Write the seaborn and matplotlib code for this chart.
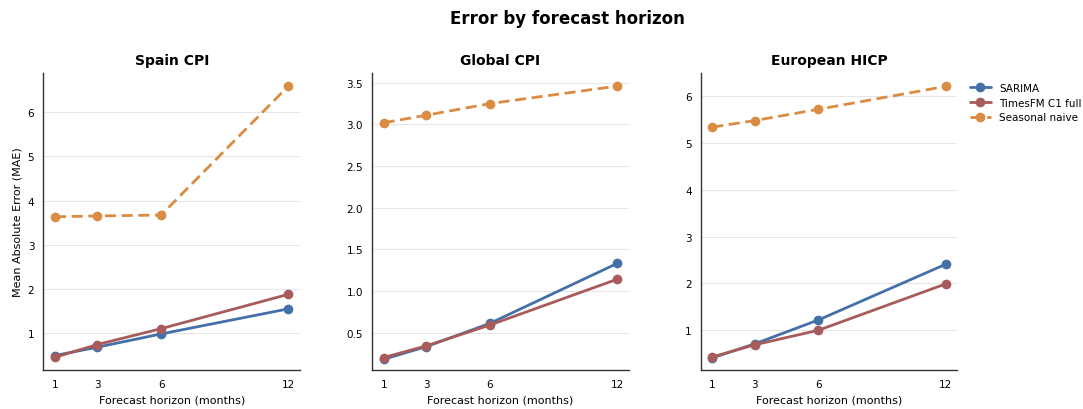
import numpy as np
import pandas as pd
import matplotlib
matplotlib.use("Agg")
import matplotlib.pyplot as plt
import seaborn as sns

horizons = [1, 3, 6, 12]
datasets = ["Spain CPI", "Global CPI", "European HICP"]
models = ["SARIMA", "TimesFM C1 full", "Seasonal naive"]

spain_sarima = [0.48, 0.67, 0.97, 1.54]
spain_timesfm = [0.44, 0.73, 1.09, 1.87]
spain_naive = [3.63, 3.65, 3.67, 6.60]

global_sarima = [0.18, 0.33, 0.61, 1.33]
global_timesfm = [0.20, 0.34, 0.59, 1.14]
global_naive = [3.02, 3.11, 3.25, 3.46]

europe_sarima = [0.41, 0.71, 1.22, 2.41]
europe_timesfm = [0.43, 0.69, 1.00, 1.99]
europe_naive = [5.34, 5.48, 5.72, 6.21]

values = {
    "Spain CPI": [spain_sarima, spain_timesfm, spain_naive],
    "Global CPI": [global_sarima, global_timesfm, global_naive],
    "European HICP": [europe_sarima, europe_timesfm, europe_naive],
}

rows = []
for ds in datasets:
    for m, vals in zip(models, values[ds]):
        for h, v in zip(horizons, vals):
            rows.append({"dataset": ds, "model": m, "horizon": h, "mae": v})
df = pd.DataFrame(rows)

sns.set_theme(style="white")
plt.rcParams["font.family"] = ["DejaVu Sans"]
for k in ["text.color", "axes.labelcolor", "xtick.color", "ytick.color", "axes.titlecolor"]:
    plt.rcParams[k] = "black"

palette = {"SARIMA": "#4470a8", "TimesFM C1 full": "#a85b5b", "Seasonal naive": "#d98c42"}
dashes = {"SARIMA": "", "TimesFM C1 full": "", "Seasonal naive": (4, 2)}

fig, axes = plt.subplots(1, 3, figsize=(10.83, 4.1), dpi=100)
fig.subplots_adjust(left=0.04, right=0.884, top=0.82, bottom=0.095, wspace=0.28)

for i, (ax, ds) in enumerate(zip(axes, datasets)):
    sub = df[df["dataset"] == ds]
    sns.lineplot(data=sub, x="horizon", y="mae", hue="model", style="model",
                 hue_order=models, style_order=models, palette=palette,
                 dashes=dashes, markers={"SARIMA": "o", "TimesFM C1 full": "o", "Seasonal naive": "o"},
                 markersize=7, markeredgewidth=0, linewidth=2, ax=ax,
                 legend=(i == 2))
    ax.set_title(ds, fontsize=10, fontweight="bold", pad=6)
    ax.set_xticks(horizons)
    ax.set_xlabel("Forecast horizon (months)", fontsize=8)
    ax.set_ylabel("Mean Absolute Error (MAE)" if i == 0 else "", fontsize=8)
    ax.tick_params(axis="both", labelsize=7.5, length=3, width=0.8, color="#333333")
    ax.yaxis.grid(True, color="#e6e6e6", linewidth=0.8)
    ax.set_axisbelow(True)
    for s in ["top", "right"]:
        ax.spines[s].set_visible(False)
    for s in ["left", "bottom"]:
        ax.spines[s].set_color("#333333")
        ax.spines[s].set_linewidth(1.0)
    ax.set_xlim(0.45, 12.55)

axes[0].set_ylim(0.15, 6.9)
axes[1].set_ylim(0.05, 3.62)
axes[2].set_ylim(0.15, 6.5)

leg = axes[2].legend(loc="upper left", bbox_to_anchor=(1.02, 0.99), frameon=False,
                     fontsize=7.5, handlelength=2.0, handletextpad=0.8,
                     borderaxespad=0.3, labelspacing=0.45)

fig.suptitle("Error by forecast horizon", fontsize=12, fontweight="bold", x=0.524, y=0.975)
fig.savefig("out.png", dpi=100)
